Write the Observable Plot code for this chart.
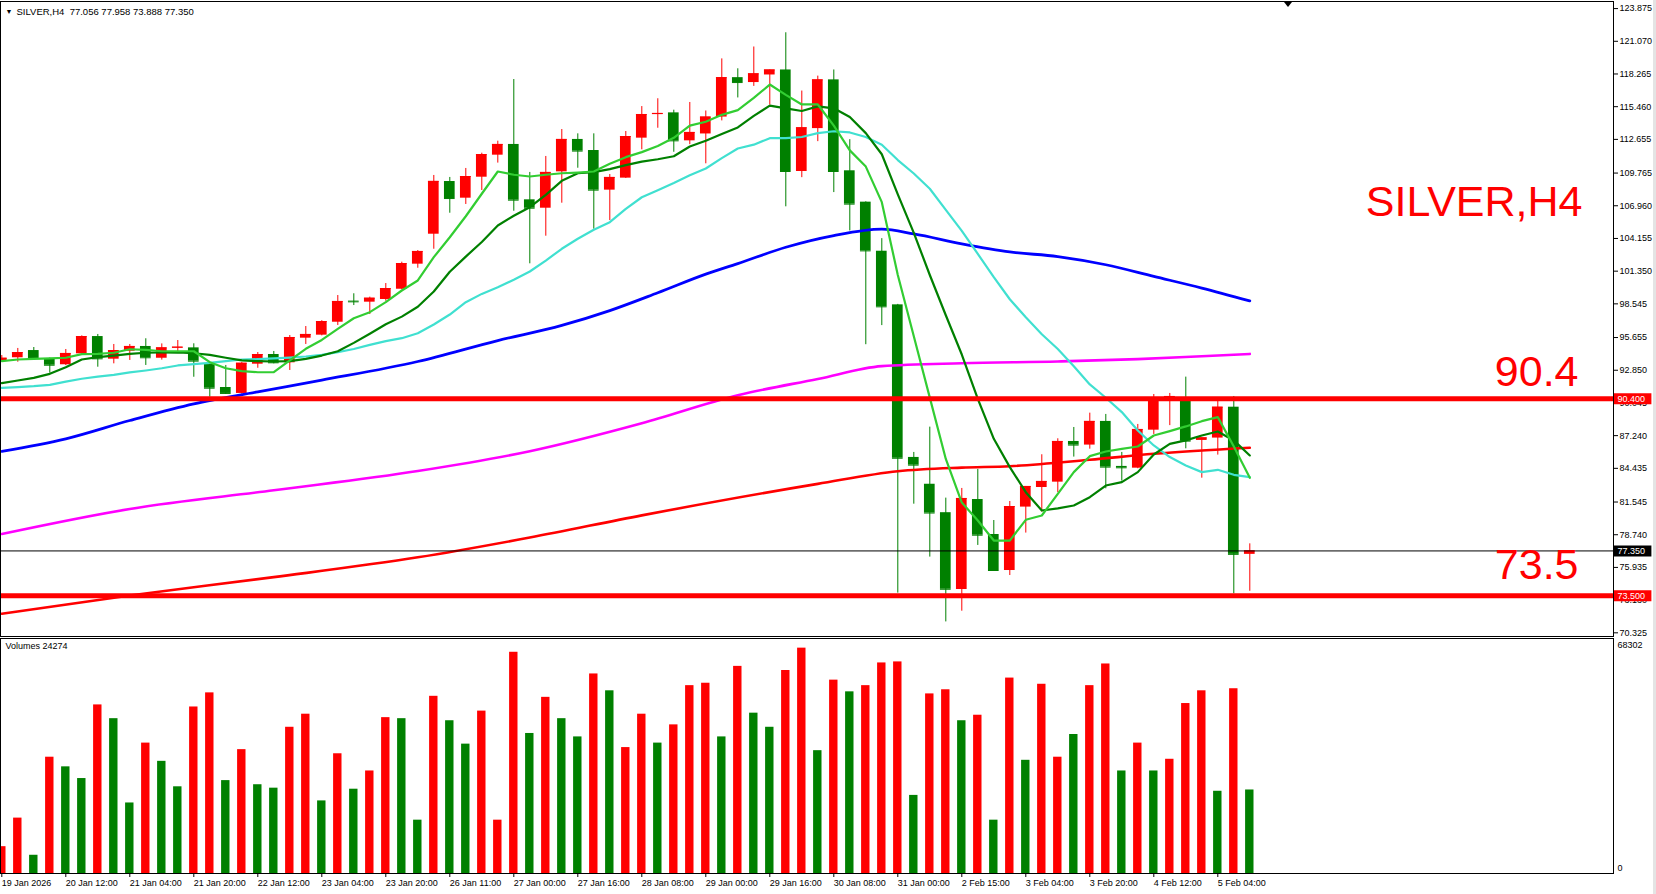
<!DOCTYPE html>
<html><head><meta charset="utf-8">
<script src="https://cdn.jsdelivr.net/npm/d3@7"></script>
<script src="https://cdn.jsdelivr.net/npm/@observablehq/plot@0.6"></script>
<style>
html,body{margin:0;padding:0;background:#fff;}
#chart{position:relative;width:1656px;height:894px;overflow:hidden;background:#fff;font-family:"Liberation Sans",Arial,sans-serif;}
#chart svg{display:block;}
#price{position:absolute;left:0;top:0;}
#volume{position:absolute;left:0;top:637px;}
.edge{position:absolute;left:1653px;top:0;width:3px;height:894px;background:#e4e4e4;}
.shift{position:absolute;left:1284px;top:2px;width:0;height:0;border-left:4px solid transparent;border-right:4px solid transparent;border-top:5px solid #000;}
</style></head><body>
<div id="chart"><div id="price"></div><div id="volume"></div><div class="edge"></div><div class="shift"></div></div>
<script>
// ---------- data ----------
const symbol = "SILVER,H4";
const xLabels = ["19 Jan 2026","20 Jan 12:00","21 Jan 04:00","21 Jan 20:00","22 Jan 12:00","23 Jan 04:00","23 Jan 20:00","26 Jan 11:00","27 Jan 00:00","27 Jan 16:00","28 Jan 08:00","29 Jan 00:00","29 Jan 16:00","30 Jan 08:00","31 Jan 00:00","2 Feb 15:00","3 Feb 04:00","3 Feb 20:00","4 Feb 12:00","5 Feb 04:00"];
const open  = [93.66,93.92,94.54,93.83,93.32,94.26,95.74,93.80,94.48,94.89,93.88,94.74,94.77,93.34,91.37,90.86,93.37,94.20,93.49,95.60,95.86,96.97,98.78,98.69,98.92,99.80,101.95,104.52,109.04,107.61,109.41,111.30,112.22,107.47,106.75,109.87,112.65,111.70,108.30,109.33,112.76,114.78,114.93,112.53,113.12,114.57,117.95,117.53,118.18,118.61,109.90,113.58,117.76,109.96,107.27,103.06,98.46,85.37,83.07,80.63,74.04,81.76,78.76,75.67,81.11,82.79,83.25,86.74,86.43,88.46,84.60,84.45,87.71,90.25,90.50,86.83,87.03,89.68,77.056];
const high  = [94.11,94.72,94.80,93.90,94.63,95.80,95.92,95.06,95.06,95.55,95.11,95.40,95.12,93.54,93.26,93.51,94.37,94.46,95.83,96.60,97.10,99.26,99.41,99.12,100.29,102.12,103.12,109.56,109.39,110.16,111.47,112.50,117.79,109.82,111.19,113.50,113.13,113.13,109.64,113.33,115.47,116.14,115.16,115.82,115.09,119.56,118.71,120.58,118.61,121.80,116.80,118.08,118.61,112.63,107.30,104.14,98.50,85.80,87.97,81.88,82.71,84.34,79.96,81.59,82.88,85.60,86.97,87.94,89.17,89.06,85.80,88.20,90.77,90.86,92.26,87.05,90.20,90.60,77.958];
const low   = [93.60,93.54,93.90,92.60,93.25,94.20,93.11,93.40,93.69,93.26,93.72,94.40,92.25,90.54,90.77,90.80,93.02,93.40,92.83,95.06,95.80,96.69,98.40,97.63,98.77,99.75,101.60,103.23,106.32,107.07,108.27,110.62,106.49,101.98,104.35,107.18,110.18,104.95,105.69,109.30,111.76,113.61,111.55,112.20,110.56,114.24,116.21,117.20,115.60,106.87,109.37,112.46,108.09,104.80,95.04,96.68,73.73,81.36,76.82,71.26,72.18,77.82,75.62,75.24,78.88,80.68,82.36,85.40,86.08,82.68,83.34,84.40,87.34,88.10,86.11,83.59,85.57,73.67,73.888];
const close = [93.88,94.37,93.94,93.28,94.29,95.74,93.83,94.54,94.89,93.92,94.77,94.83,93.63,91.31,90.86,93.45,94.20,93.49,95.66,95.92,97.03,98.75,98.72,99.03,99.86,102.00,103.04,109.05,107.58,109.47,111.35,112.22,107.44,106.75,109.82,112.65,111.65,108.30,109.39,112.90,114.79,114.88,112.53,113.25,114.57,117.95,117.53,118.28,118.61,109.90,113.65,117.76,109.90,107.10,103.09,98.29,85.30,84.71,80.60,74.06,81.85,78.70,75.67,81.16,82.88,83.31,86.74,86.43,88.46,84.54,84.48,87.77,90.45,90.60,86.77,87.05,89.68,77.056,77.350];
const volume = [7800,16100,5300,33800,31000,27600,49000,45000,20500,37900,32600,25200,48400,52500,27000,36000,25800,24800,42500,46300,21100,34800,24500,29800,45300,45000,15500,51500,44400,37600,47200,15500,64300,40700,51200,45000,39700,58000,53100,36600,46300,37900,43200,54600,55300,39700,60200,46600,42500,59000,65500,35700,56200,52800,54600,61200,61500,22700,52200,53400,44400,46000,15500,56800,32900,55000,33800,40400,54600,60900,29800,37900,29800,33200,49400,53100,23900,53700,24274];
// volume direction as shown by the indicator: U = up bar, D = down bar
const volumeDir = "UUDUDDUDDUDDUUDUDDUUDUDUUDDUDDUUUDUDDUDUUDUUUDUDDUUDUDUUUDUUDUDUDUUDUUDUDUUUDUD";
const volumeMax = 68302;
// moving averages read per bar
const maFast = [93.63,93.77,93.83,93.86,93.92,94.23,94.26,94.35,94.65,94.60,94.48,94.48,94.48,93.54,93.02,92.77,92.68,92.68,93.69,94.69,95.45,96.40,97.31,97.83,98.69,99.69,100.55,102.55,104.26,106.06,107.99,109.90,109.62,109.47,109.62,109.75,109.81,109.90,110.56,111.13,111.56,112.08,112.79,113.84,114.17,114.76,115.16,116.21,117.36,116.47,115.65,115.65,113.84,111.71,110.32,107.27,101.02,95.76,90.50,85.24,81.50,79.96,78.24,78.24,80.02,80.39,82.25,84.11,85.48,85.88,86.11,86.31,87.25,87.63,88.03,88.48,88.83,86.31,83.62];
const maMid  = [91.74,91.97,92.20,92.54,93.11,93.77,93.97,94.11,94.26,94.35,94.37,94.37,94.31,94.17,93.92,93.69,93.63,93.60,93.63,93.83,94.11,94.48,95.20,95.98,96.80,97.45,98.30,99.60,101.30,102.60,103.85,105.27,106.10,106.84,107.90,109.10,109.75,109.84,110.10,110.45,110.75,110.95,111.21,112.04,112.53,113.12,113.68,114.67,115.55,115.32,115.09,115.49,115.32,114.57,113.19,111.38,107.93,104.64,101.02,97.57,94.20,90.40,86.97,84.54,82.39,80.82,81.00,81.25,81.96,82.96,83.25,84.11,85.62,86.54,86.83,87.25,87.60,86.83,85.54];
const maSlow = [91.34,91.40,91.48,91.60,91.88,92.12,92.31,92.46,92.66,92.83,93.02,93.26,93.37,93.49,93.63,93.77,93.80,93.86,93.94,94.03,94.17,94.40,94.67,95.03,95.35,95.60,96.03,96.77,97.63,98.69,99.40,99.97,100.61,101.32,102.26,103.27,104.13,104.90,105.55,106.70,107.69,108.30,108.91,109.57,110.16,111.05,111.87,112.20,112.76,112.76,112.86,113.19,113.35,113.25,112.86,112.20,110.88,109.73,108.42,106.61,104.80,102.83,100.83,98.94,97.39,95.94,94.67,93.20,91.63,90.49,89.26,87.68,86.40,85.40,84.68,84.11,84.31,83.88,83.68];
// long moving averages read at selected bars
const ma50Bar = [0,4,8,12,16,20,26,31,35,38,41,44,46,49,52,55,57,60,63,66,69,72,75,78];
const ma50Val = [85.90,86.97,88.54,89.97,91.00,92.00,93.60,95.40,96.70,97.97,99.50,101.10,102.00,103.40,104.40,104.95,104.55,103.70,103.00,102.60,101.90,100.90,99.90,98.80];
const ma100Bar = [0,8,17,26,33,40,46,51,55,60,66,71,75,78];
const ma100Val = [78.80,80.95,82.55,84.20,85.90,88.30,90.70,92.10,93.20,93.45,93.60,93.80,94.05,94.25];
const ma200Bar = [0,8,17,26,33,40,51,56,60,63,68,72,78];
const ma200Val = [71.96,73.53,75.10,76.80,78.50,80.40,83.10,84.19,84.50,84.62,85.17,85.68,86.20];
const levels = [90.4, 73.5];
const priceTicks = [123.875,121.070,118.265,115.460,112.655,109.765,106.960,104.155,101.350,98.545,95.655,92.850,90.045,87.240,84.435,81.545,78.740,75.935,73.130,70.325];

// ---------- styles ----------
const RED = "#FF0000", GREEN = "#008000", LIME = "#32CD32", TURQ = "#40E0D0", BLUE = "#0000FF", MAGENTA = "#FF00FF";
const FONT = "Liberation Sans, Arial, sans-serif";
const W = 1656, MR = 43, PITCH = 16;
const plotW = W - MR;
const xmin = -1.3 / PITCH, xmax = xmin + plotW / PITCH;
const bodyHalf = 0.334, volHalf = 0.2625;

const bars = open.map((o, i) => ({i, o, h: high[i], l: low[i], c: close[i]}));
const last = bars[bars.length - 1];
const candleColor = d => d.c >= d.o ? RED : GREEN;
const seq = arr => arr.map((v, i) => ({i, v}));
const pairs = (bs, vs) => bs.map((b, k) => ({i: b, v: vs[k]}));
const vols = volume.map((v, i) => ({i, v, up: volumeDir[i] === "U"}));
const tickIdx = xLabels.map((_, k) => k * 4);
const labelAt = new Map(tickIdx.map((t, k) => [t, xLabels[k]]));
const fmt3 = d => d.toFixed(3);
const tags = [
  {v: levels[0], bg: RED},
  {v: last.c, bg: "#000"},
  {v: levels[1], bg: RED}
];

const price = Plot.plot({
  width: W, height: 637,
  marginLeft: 0, marginRight: MR, marginTop: 1, marginBottom: 1,
  style: {background: "#fff", fontFamily: FONT, fontSize: "9px", color: "#000"},
  x: {domain: [xmin, xmax], axis: null},
  y: {domain: [70.009, 124.483]},
  marks: [
    Plot.axisY({anchor: "right", ticks: priceTicks, tickFormat: fmt3, tickSize: 4, tickPadding: 2, fontSize: 9, label: null}),
    Plot.ruleX(bars, {x: "i", y1: "l", y2: "h", stroke: candleColor, strokeWidth: 1}),
    Plot.rect(bars, {x1: d => d.i - bodyHalf, x2: d => d.i + bodyHalf, y1: "o", y2: "c", fill: candleColor}),
    Plot.ruleY(bars, {x1: d => d.i - bodyHalf, x2: d => d.i + bodyHalf, y: "c", stroke: candleColor, strokeWidth: 1}),
    Plot.line(pairs(ma200Bar, ma200Val), {x: "i", y: "v", stroke: RED, strokeWidth: 2.6, curve: "monotone-x"}),
    Plot.line(pairs(ma100Bar, ma100Val), {x: "i", y: "v", stroke: MAGENTA, strokeWidth: 2.6, curve: "monotone-x"}),
    Plot.line(pairs(ma50Bar, ma50Val), {x: "i", y: "v", stroke: BLUE, strokeWidth: 2.8, curve: "monotone-x"}),
    Plot.line(seq(maSlow), {x: "i", y: "v", stroke: TURQ, strokeWidth: 2.2}),
    Plot.line(seq(maMid), {x: "i", y: "v", stroke: GREEN, strokeWidth: 2.2}),
    Plot.line(seq(maFast), {x: "i", y: "v", stroke: LIME, strokeWidth: 2.2}),
    Plot.ruleY([last.c], {stroke: "#000", strokeWidth: 1}),
    Plot.ruleY(levels, {stroke: RED, strokeWidth: 5}),
    Plot.frame({stroke: "#000", strokeWidth: 1}),
    Plot.ruleY(tags, {y: "v", x1: xmax + 0.06, x2: xmax + 2.4, stroke: "bg", strokeWidth: 11}),
    Plot.text(tags, {y: "v", text: d => fmt3(d.v), frameAnchor: "right", dx: 4, textAnchor: "start", fill: "#fff", fontSize: 9}),
    Plot.text([symbol], {frameAnchor: "top-right", dx: -31, dy: 214, lineAnchor: "bottom", textAnchor: "end", fontSize: 43, fill: RED}),
    Plot.text([levels[0]], {y: d => d, text: d => String(d), frameAnchor: "right", dx: -35, dy: -13, lineAnchor: "bottom", textAnchor: "end", fontSize: 43, fill: RED}),
    Plot.text([levels[1]], {y: d => d, text: d => String(d), frameAnchor: "right", dx: -35, dy: -16.5, lineAnchor: "bottom", textAnchor: "end", fontSize: 43, fill: RED}),
    Plot.text([`${symbol}  ${last.o.toFixed(3)} ${last.h.toFixed(3)} ${last.l.toFixed(3)} ${last.c.toFixed(3)}`], {frameAnchor: "top-left", dx: 16, dy: 10, lineAnchor: "middle", textAnchor: "start", fontSize: 9.5, fill: "#000"}),
    Plot.text(["\u25BC"], {frameAnchor: "top-left", dx: 5, dy: 10, lineAnchor: "middle", textAnchor: "start", fontSize: 7, fill: "#000"})
  ]
});
document.getElementById("price").appendChild(price);

const vol = Plot.plot({
  width: W, height: 257,
  marginLeft: 0, marginRight: MR, marginTop: 1, marginBottom: 21,
  style: {background: "#fff", fontFamily: FONT, fontSize: "9px", color: "#000"},
  x: {domain: [xmin, xmax]},
  y: {domain: [0, volumeMax], axis: null},
  marks: [
    Plot.rect(vols, {x1: d => d.i - volHalf, x2: d => d.i + volHalf, y1: 0, y2: "v", fill: d => d.up ? RED : GREEN}),
    Plot.frame({stroke: "#000", strokeWidth: 1}),
    Plot.axisX({ticks: tickIdx, tickFormat: t => labelAt.get(t), tickSize: 4, tickPadding: 2, textAnchor: "start", fontSize: 9, label: null}),
    Plot.text([`Volumes ${volume[volume.length - 1]}`], {frameAnchor: "top-left", dx: 5, dy: 8, lineAnchor: "middle", textAnchor: "start", fontSize: 9, fill: "#000"}),
    Plot.text([volumeMax], {y: d => d, text: d => String(d), frameAnchor: "right", dx: 4, dy: 7, lineAnchor: "middle", textAnchor: "start", fontSize: 9, fill: "#000"}),
    Plot.text([0], {y: d => d, text: d => String(d), frameAnchor: "right", dx: 4, dy: -5, lineAnchor: "middle", textAnchor: "start", fontSize: 9, fill: "#000"})
  ]
});
document.getElementById("volume").appendChild(vol);
</script></body></html>
